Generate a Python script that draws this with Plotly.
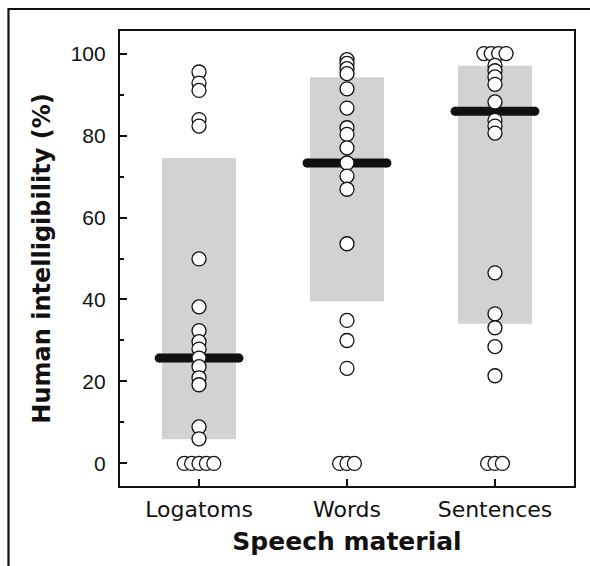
import plotly.graph_objects as go

categories = ["Logatoms", "Words", "Sentences"]

# individual intelligibility scores (%)
logatoms = [95.5, 92.8, 91.0, 83.9, 82.3, 49.9, 38.2, 32.4, 29.7, 27.9, 25.7,
            23.6, 20.9, 19.2, 8.9, 6.0, 0, 0, 0, 0, 0]
logatoms_off = [0] * 16 + [-0.1, -0.05, 0, 0.05, 0.1]

words = [98.5, 97.6, 96.3, 95.1, 91.4, 86.7, 81.9, 80.3, 77.0, 73.3, 70.1,
         66.9, 53.6, 34.9, 30.0, 23.2, 0, 0, 0]
words_off = [0] * 16 + [-0.05, 0, 0.05]

sentences = [100, 100, 100, 100, 97.1, 95.8, 94.3, 92.5, 88.2, 83.7, 82.3,
             80.6, 46.5, 36.5, 33.1, 28.5, 21.4, 0, 0, 0]
sentences_off = [-0.075, -0.025, 0.025, 0.075] + [0] * 13 + [-0.05, 0, 0.05]

# range boxes and medians
box_low = [5.9, 39.6, 34.1]
box_high = [74.5, 94.2, 97.0]
medians = [25.7, 73.3, 85.9]

yticks = [0, 20, 40, 60, 80, 100]

fig = go.Figure()

fig.add_trace(go.Bar(
    x=list(range(len(categories))),
    base=box_low,
    y=[h - l for h, l in zip(box_high, box_low)],
    width=0.5,
    marker=dict(color="#d1d2d4", line=dict(width=0)),
    hoverinfo="skip",
))

half = 0.27
mx, my = [], []
for i, m in enumerate(medians):
    mx += [i - half, i + half, None]
    my += [m, m, None]
fig.add_trace(go.Scatter(
    x=mx, y=my, mode="lines+markers",
    line=dict(color="#111111", width=9),
    marker=dict(color="#111111", size=9),
    hoverinfo="skip",
))

for i, (vals, offs) in enumerate([(logatoms, logatoms_off), (words, words_off),
                                  (sentences, sentences_off)]):
    fig.add_trace(go.Scatter(
        x=[i + o for o in offs], y=vals, mode="markers",
        marker=dict(size=14, color="white", line=dict(color="#111111", width=1.3)),
    ))

# outer border (left & top of the framed figure)
fig.add_shape(type="rect", xref="paper", yref="paper",
              x0=-0.2456, x1=1.2, y0=-0.3, y1=1.0484,
              line=dict(color="#111111", width=2.2), layer="above")

fig.update_layout(
    width=590, height=566,
    margin=dict(l=120, r=16, t=31, b=80),
    paper_bgcolor="white", plot_bgcolor="white",
    showlegend=False,
    xaxis=dict(
        range=[-0.534, 2.534],
        tickvals=list(range(len(categories))), ticktext=categories,
        ticks="inside", ticklen=7, tickwidth=2, tickcolor="#111111",
        showline=True, linecolor="#111111", linewidth=2.2, mirror=True,
        showgrid=False, zeroline=False,
        ticklabelstandoff=2,
        tickfont=dict(family="DejaVu Sans", size=22, color="#111111"),
        title=dict(text="<b>Speech material</b>", standoff=12,
                   font=dict(family="DejaVu Sans", size=25, color="#111111")),
    ),
    yaxis=dict(
        range=[-5.5, 105.5],
        tickvals=yticks,
        ticks="inside", ticklen=7, tickwidth=2, tickcolor="#111111",
        minor=dict(ticks="inside", ticklen=4, dtick=10, tick0=0, tickwidth=2, tickcolor="#111111"),
        showline=True, linecolor="#111111", linewidth=2.2, mirror=True,
        showgrid=False, zeroline=False,
        ticklabelstandoff=8,
        tickfont=dict(family="Liberation Sans", size=21, color="#111111"),
        title=dict(text="<b>Human intelligibility (%)</b>", standoff=13,
                   font=dict(family="DejaVu Sans", size=24, color="#111111")),
    ),
)

fig.write_html("out.html")
